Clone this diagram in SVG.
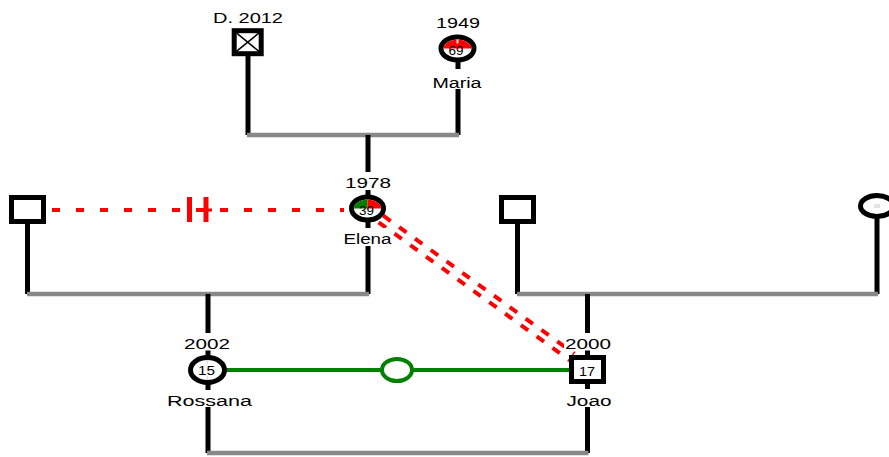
<svg xmlns="http://www.w3.org/2000/svg" width="889" height="457" viewBox="0 0 889 457">
  <style>
    .desc { stroke: #000; stroke-width: 5; fill: none; }
    .sib { stroke: #888; stroke-width: 4.5; fill: none; }
    .male { fill: #fff; stroke: #000; stroke-width: 5; }
    .female { fill: #fff; stroke: #000; stroke-width: 5; }
    .lbl { font-family: "Liberation Sans", Arial, sans-serif; font-size: 15.5px; fill: #000; text-anchor: middle; }
    .age { font-family: "Liberation Sans", Arial, sans-serif; font-size: 12px; fill: #000; text-anchor: middle; }
    .bg { fill: #fff; }
    .rel-red { stroke: #ff0000; stroke-width: 4; fill: none; }
    .rel-green { stroke: #008000; stroke-width: 4; fill: none; }
  </style>

  <!-- connectors: descent lines, sibling bars and partner links -->
  <g id="connectors">
    <!-- parents of Elena -->
    <line class="desc" x1="248" y1="55" x2="248" y2="135"/>
    <line class="desc" x1="458" y1="58" x2="458" y2="135"/>
    <line class="sib" x1="247" y1="135" x2="459" y2="135"/>
    <line class="desc" x1="368" y1="135" x2="368" y2="294"/>

    <!-- parents of Rossana -->
    <line class="desc" x1="27.5" y1="221" x2="27.5" y2="294"/>
    <line class="sib" x1="27" y1="294" x2="369" y2="294"/>
    <line class="desc" x1="208" y1="294" x2="208" y2="453"/>

    <!-- parents of Joao -->
    <line class="desc" x1="517.5" y1="221" x2="517.5" y2="294"/>
    <line class="desc" x1="877" y1="214" x2="877" y2="294"/>
    <line class="sib" x1="517" y1="294" x2="878" y2="294"/>
    <line class="desc" x1="587.5" y1="294" x2="587.5" y2="453"/>

    <!-- Rossana / Joao sibling bar -->
    <line class="sib" x1="207" y1="453" x2="588.5" y2="453"/>

    <!-- separated couple -->
    <line class="rel-red" x1="52" y1="210" x2="344" y2="210" stroke-dasharray="8 16"/>
    <line stroke="#ff0000" stroke-width="5" x1="189.5" y1="197" x2="189.5" y2="222"/>
    <line stroke="#ff0000" stroke-width="5" x1="206" y1="197" x2="206" y2="222"/>
    <line stroke="#ff0000" stroke-width="3" x1="206" y1="210" x2="212" y2="210"/>

    <!-- double dashed link Elena / Joao -->
    <line class="rel-red" x1="378.65" y1="222.26" x2="569.65" y2="360.26" stroke-dasharray="9 10.5"/>
    <line class="rel-red" x1="383.35" y1="215.74" x2="574.35" y2="353.74" stroke-dasharray="9 10.5"/>

    <!-- Rossana / Joao link -->
    <line class="rel-green" x1="224" y1="370" x2="570" y2="370"/>
    <ellipse cx="397" cy="370" rx="15" ry="11" fill="#fff" stroke="#008000" stroke-width="4"/>
  </g>

  <!-- grandfather, deceased 2012 -->
  <g id="node-grandfather">
    <text class="lbl" x="248" y="23" textLength="70" lengthAdjust="spacingAndGlyphs">D. 2012</text>
    <rect class="male" x="234.2" y="30.7" width="27" height="23"/>
    <path d="M236.7,33.2 L258.7,51.2 M258.7,33.2 L236.7,51.2" stroke="#000" stroke-width="1.5" fill="none"/>
  </g>

  <!-- Maria -->
  <g id="node-maria">
    <text class="lbl" x="458" y="28" textLength="44" lengthAdjust="spacingAndGlyphs">1949</text>
    <ellipse class="female" cx="457.5" cy="48.5" rx="16.5" ry="11.5"/>
    <path d="M443.5,48.5 A14 9 0 0 1 471.5,48.5 Z" fill="#ff0000"/>
    <line x1="457.5" y1="39.5" x2="457.5" y2="43.5" stroke="#ddd" stroke-width="2"/>
    <text class="age" x="456" y="55" textLength="15" lengthAdjust="spacingAndGlyphs">69</text>
    <rect class="bg" x="431" y="69" width="52" height="20"/>
    <text class="lbl" x="457" y="87.5" textLength="49" lengthAdjust="spacingAndGlyphs">Maria</text>
  </g>

  <!-- Elena -->
  <g id="node-elena">
    <rect class="bg" x="344" y="172" width="48" height="18"/>
    <text class="lbl" x="368" y="188" textLength="46" lengthAdjust="spacingAndGlyphs">1978</text>
    <ellipse class="female" cx="367.5" cy="208.5" rx="16" ry="11.5"/>
    <path d="M354,208.5 A13.5 9 0 0 1 367.5,199.5 L367.5,208.5 Z" fill="#008000"/>
    <path d="M367.5,199.5 A13.5 9 0 0 1 381,208.5 L367.5,208.5 Z" fill="#ff0000"/>
    <text class="age" x="366.5" y="214.5" textLength="15" lengthAdjust="spacingAndGlyphs">39</text>
    <rect class="bg" x="342.5" y="228" width="50" height="18"/>
    <text class="lbl" x="367.5" y="244" textLength="48" lengthAdjust="spacingAndGlyphs">Elena</text>
  </g>

  <!-- Rossana's father -->
  <g id="node-father-left">
    <rect class="male" x="11.5" y="197.5" width="32" height="24"/>
  </g>

  <!-- Joao's father -->
  <g id="node-father-right">
    <rect class="male" x="501.5" y="197.5" width="32" height="24"/>
  </g>

  <!-- Joao's mother -->
  <g id="node-mother-right">
    <ellipse class="female" cx="877" cy="206" rx="16.5" ry="10.5"/>
    <rect x="874" y="204" width="6" height="4" fill="#e4e4e4"/>
  </g>

  <!-- Rossana -->
  <g id="node-rossana">
    <rect class="bg" x="183" y="333" width="48" height="17.5"/>
    <text class="lbl" x="207" y="349" textLength="46" lengthAdjust="spacingAndGlyphs">2002</text>
    <ellipse class="female" cx="207.5" cy="370" rx="17" ry="12.5"/>
    <line x1="207.5" y1="360" x2="207.5" y2="364" stroke="#ddd" stroke-width="1.5"/>
    <line x1="207.5" y1="376" x2="207.5" y2="380" stroke="#ddd" stroke-width="1.5"/>
    <text class="age" x="206.5" y="375" textLength="17" lengthAdjust="spacingAndGlyphs">15</text>
    <rect class="bg" x="166" y="390" width="87" height="17"/>
    <text class="lbl" x="209.5" y="406" textLength="85" lengthAdjust="spacingAndGlyphs">Rossana</text>
  </g>

  <!-- Joao -->
  <g id="node-joao">
    <rect class="bg" x="564" y="333" width="48" height="17.5"/>
    <text class="lbl" x="588" y="349" textLength="46" lengthAdjust="spacingAndGlyphs">2000</text>
    <rect class="male" x="571.5" y="357.5" width="32" height="24"/>
    <text class="age" x="587" y="375.5" textLength="16" lengthAdjust="spacingAndGlyphs">17</text>
    <rect class="bg" x="565" y="389" width="48" height="18"/>
    <text class="lbl" x="589" y="406" textLength="45" lengthAdjust="spacingAndGlyphs">Joao</text>
  </g>
</svg>
